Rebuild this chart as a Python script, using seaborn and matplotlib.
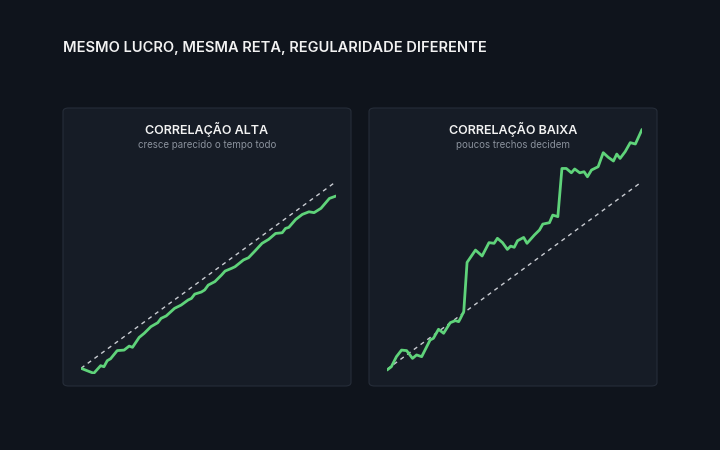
import matplotlib.pyplot as plt
import seaborn as sns
from matplotlib.patches import FancyBboxPatch

sns.set_theme(style="dark")
plt.rcParams['font.family'] = ['Inter', 'DejaVu Sans']

# data (day, accumulated profit)
alta_days = [0, 5, 7.7, 9, 10.3, 11.6, 14.2, 16.9, 18.9, 20.2, 22.8, 24.8, 27.4, 30.1, 31.4,
             33.4, 36.7, 39.3, 42, 43.3, 44.6, 47.2, 48.5, 49.9, 52.5, 55.1, 56.5, 59.1, 60.4,
             63.7, 65.7, 68.3, 71, 73.6, 76.3, 78.9, 80.2, 81.5, 84.2, 86.8, 89.4, 91.4, 94.1,
             97.4, 100]
alta_profit = [1, -1.9, 2.5, 1.9, 5.4, 6.5, 11.2, 11.5, 13.8, 13.1, 18.8, 21.2, 25, 27.3, 29.8,
               31.2, 35.6, 37.5, 40.4, 41.3, 43.8, 45, 46.2, 49, 51, 54.8, 57.1, 58.7, 59.6,
               63.5, 64.8, 68.8, 73.1, 75.4, 78.8, 79.2, 81.7, 82.3, 86.9, 89.8, 91.3, 90.8, 93.3,
               99, 100.4]
baixa_days = [0, 1.7, 3.7, 5.7, 7.7, 10, 11.6, 13.6, 16.9, 18.2, 20.2, 22.2, 24.8, 26.8, 28.1,
              28.8, 30.1, 31.4, 34.7, 37.3, 40, 42, 43.3, 45.3, 47.2, 48.5, 49.9, 51.2, 53.6,
              54.9, 57.8, 59.8, 61.1, 63.7, 65, 67, 68.6, 70.3, 72.3, 73.6, 75.6, 77.3, 78.6,
              80.2, 82.8, 84.8, 86.8, 88.8, 90.1, 91.4, 93.4, 95.4, 97.4, 100]
baixa_profit = [0, 1.9, 7.7, 11.5, 11.2, 6.7, 8.7, 7.7, 17.3, 18.3, 23.5, 21.2, 27.3, 28.5, 27.9,
                29.8, 33.7, 62.1, 69.2, 65.8, 73.5, 73.1, 76, 73.5, 69.6, 71.5, 70.8, 74.6, 76.5,
                73.1, 77.9, 80.8, 84.2, 85, 89.4, 88.5, 116.3, 116.3, 113.8, 116, 113.8, 114.4, 111.5,
                115.4, 117.3, 125.4, 122.7, 120.6, 124.6, 122.1, 126, 131.2, 130.4, 138.8]
trend_days = [0, 100]
alta_trend = [1, 108.7]
baixa_trend = [0.4, 108.7]

BG = "#0f141c"
PANEL = "#161c26"
GREEN = "#5fd37a"

W, H = 720, 450
fig = plt.figure(figsize=(7.2, 4.5), dpi=100, facecolor=BG)

fig.text(63 / W, 1 - 48 / H, "MESMO LUCRO, MESMA RETA, REGULARIDADE DIFERENTE",
         color="#f2f2f2", fontsize=10.5, fontweight="semibold", va="center")

panels = [
    (63, "CORRELAÇÃO ALTA", "cresce parecido o tempo todo", alta_days, alta_profit, alta_trend),
    (369, "CORRELAÇÃO BAIXA", "poucos trechos decidem", baixa_days, baixa_profit, baixa_trend),
]
for x0, title, sub, days, profit, trend in panels:
    box = FancyBboxPatch((x0 / W, 1 - 386 / H), 288 / W, 278 / H,
                         boxstyle="round,pad=0,rounding_size=0.008",
                         transform=fig.transFigure, facecolor=PANEL,
                         edgecolor="#262d39", linewidth=0.8, zorder=-1)
    fig.patches.append(box)
    cx = (x0 + 144) / W
    fig.text(cx, 1 - 129 / H, title, color="#f2f2f2", fontsize=9,
             fontweight="semibold", ha="center", va="center")
    fig.text(cx, 1 - 145 / H, sub, color="#8a919c", fontsize=7, ha="center", va="center")

    ax = fig.add_axes([(x0 + 18) / W, 1 - 374 / H, 255 / W, 248 / H])
    ax.set_facecolor("none")
    sns.lineplot(x=trend_days, y=trend, ax=ax, color="#c9ccd2", linewidth=1,
                 linestyle=(0, (3, 3)))
    sns.lineplot(x=days, y=profit, ax=ax, color=GREEN, linewidth=2)
    ax.set_xlim(0, 100)
    ax.set_ylim(-2.3, 140.8)
    ax.set_xticks([])
    ax.set_yticks([])
    ax.set_xlabel("")
    ax.set_ylabel("")
    for s in ax.spines.values():
        s.set_visible(False)

fig.savefig("out.png", facecolor=BG)
